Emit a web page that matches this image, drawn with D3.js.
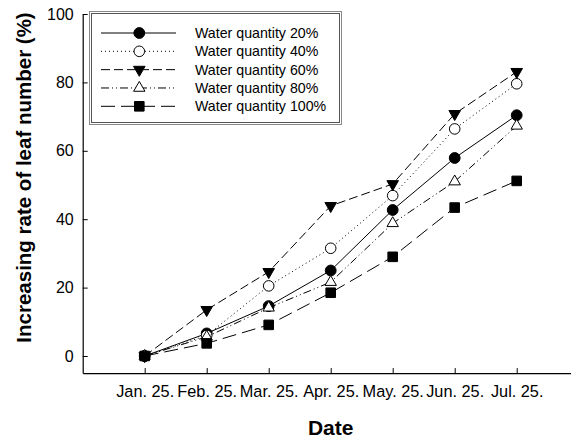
<!DOCTYPE html>
<html>
<head>
<meta charset="utf-8">
<script src="https://cdn.jsdelivr.net/npm/d3@7"></script>
<style>
	body { margin: 0; background: #fff; }
	svg { display: block; overflow: hidden; font-family: Arial, "Liberation Sans", sans-serif; }
</style>
</head>
<body>
<div id="chart"></div>
<script>
	//data
	var dates = ["Jan. 25.", "Feb. 25.", "Mar. 25.", "Apr. 25.", "May. 25.", "Jun. 25.", "Jul. 25."];
	var seriesNames = ["Water quantity 20%", "Water quantity 40%", "Water quantity 60%", "Water quantity 80%", "Water quantity 100%"];
	var water20 = [0, 6.6, 14.6, 25.0, 42.7, 57.9, 70.4];
	var water40 = [0, 6.0, 20.5, 31.5, 46.9, 66.4, 79.6];
	var water60 = [0, 13.5, 24.6, 43.9, 50.3, 70.8, 83.1];
	var water80 = [0, 5.6, 14.1, 21.6, 38.8, 51.0, 67.3];
	var water100 = [0, 3.7, 9.1, 18.5, 29.0, 43.4, 51.2];
	var yTicks = [0, 20, 40, 60, 80, 100];

	var width = 571,
		height = 441;

	//per series look: marker, fill, dash
	var styles = [
		{ values: water20, symbol: d3.symbolCircle, size: 92, rotate: 0, fill: "#000", dash: null },
		{ values: water40, symbol: d3.symbolCircle, size: 88, rotate: 0, fill: "#fff", dash: "1,3" },
		{ values: water60, symbol: d3.symbolTriangle, size: 58, rotate: 180, fill: "#000", dash: "9,4" },
		{ values: water80, symbol: d3.symbolTriangle, size: 56, rotate: 0, fill: "#fff", dash: "8,3,1,3,1,3" },
		{ values: water100, symbol: d3.symbolSquare, size: 92, rotate: 0, fill: "#000", dash: "14,6" }
	];

	var svg = d3.select("#chart").append("svg")
				.attr("width", width)
				.attr("height", height);

	//scales
	var x = d3.scaleLinear().domain([-1, 7]).range([82.7, 578.7]);
	var y = d3.scaleLinear().domain([-5, 100]).range([373.1, 14]);

	//axes, ticks point inward
	var yAxis = d3.axisLeft(y)
		.tickValues(yTicks)
		.tickSizeInner(-5)
		.tickSizeOuter(0)
		.tickPadding(9);

	var xAxis = d3.axisBottom(x)
		.tickValues(d3.range(dates.length))
		.tickFormat(function(i){ return dates[i]; })
		.tickSizeInner(-5)
		.tickSizeOuter(0)
		.tickPadding(12);

	var gy = svg.append("g")
		.attr("transform", "translate(82.7,0)")
		.call(yAxis);

	var gx = svg.append("g")
		.attr("transform", "translate(0,373.1)")
		.call(xAxis);

	svg.selectAll(".domain").attr("stroke", "#000").attr("stroke-width", 1.2);
	svg.selectAll(".tick line").attr("stroke", "#000");
	gy.selectAll("text").attr("font-size", "16px").attr("fill", "#000")
		.attr("font-family", "Arial, 'Liberation Sans', sans-serif");
	gx.selectAll("text").attr("font-size", "16.3px").attr("fill", "#000")
		.attr("font-family", "Arial, 'Liberation Sans', sans-serif");

	//axis titles
	svg.append("text")
		.attr("x", 330.7)
		.attr("y", 435)
		.attr("text-anchor", "middle")
		.attr("font-size", "21px")
		.attr("font-weight", "bold")
		.text("Date");

	svg.append("text")
		.attr("transform", "translate(31,177.5) rotate(-90)")
		.attr("text-anchor", "middle")
		.attr("font-size", "20.5px")
		.attr("font-weight", "bold")
		.text("Increasing rate of leaf number (%)");

	//lines and markers
	var line = d3.line()
		.x(function(d, i){ return x(i); })
		.y(function(d){ return y(d); });

	styles.forEach(function(s){
		svg.append("path")
			.datum(s.values)
			.attr("d", line)
			.attr("fill", "none")
			.attr("stroke", "#000")
			.attr("stroke-width", 1)
			.attr("stroke-dasharray", s.dash);

		svg.selectAll(null)
			.data(s.values)
			.enter()
			.append("path")
			.attr("d", d3.symbol().type(s.symbol).size(s.size))
			.attr("transform", function(d, i){
				return "translate(" + x(i) + "," + y(d) + ") rotate(" + s.rotate + ")";
			})
			.attr("fill", s.fill)
			.attr("stroke", "#000")
			.attr("stroke-width", 1);
	});

	//legend box
	var legend = svg.append("g");

	legend.append("rect")
		.attr("x", 89.5)
		.attr("y", 11.5)
		.attr("width", 252)
		.attr("height", 113)
		.attr("fill", "#fff")
		.attr("stroke", "#888")
		.attr("stroke-width", 1);

	legend.append("rect")
		.attr("x", 91.5)
		.attr("y", 13.5)
		.attr("width", 248)
		.attr("height", 109)
		.attr("fill", "none")
		.attr("stroke", "#555")
		.attr("stroke-width", 1);

	var rowY = d3.scaleLinear().domain([0, 4]).range([33, 106.3]);

	styles.forEach(function(s, i){
		var ry = rowY(i);
		legend.append("line")
			.attr("x1", 101)
			.attr("x2", 176)
			.attr("y1", ry)
			.attr("y2", ry)
			.attr("stroke", "#000")
			.attr("stroke-width", 1)
			.attr("stroke-dasharray", s.dash);

		legend.append("path")
			.attr("d", d3.symbol().type(s.symbol).size(s.size))
			.attr("transform", "translate(139.3," + ry + ") rotate(" + s.rotate + ")")
			.attr("fill", s.fill)
			.attr("stroke", "#000")
			.attr("stroke-width", 1);

		legend.append("text")
			.attr("x", 195)
			.attr("y", ry)
			.attr("dy", "0.35em")
			.attr("font-size", "14.2px")
			.attr("fill", "#000")
			.text(seriesNames[i]);
	});
</script>
</body>
</html>
